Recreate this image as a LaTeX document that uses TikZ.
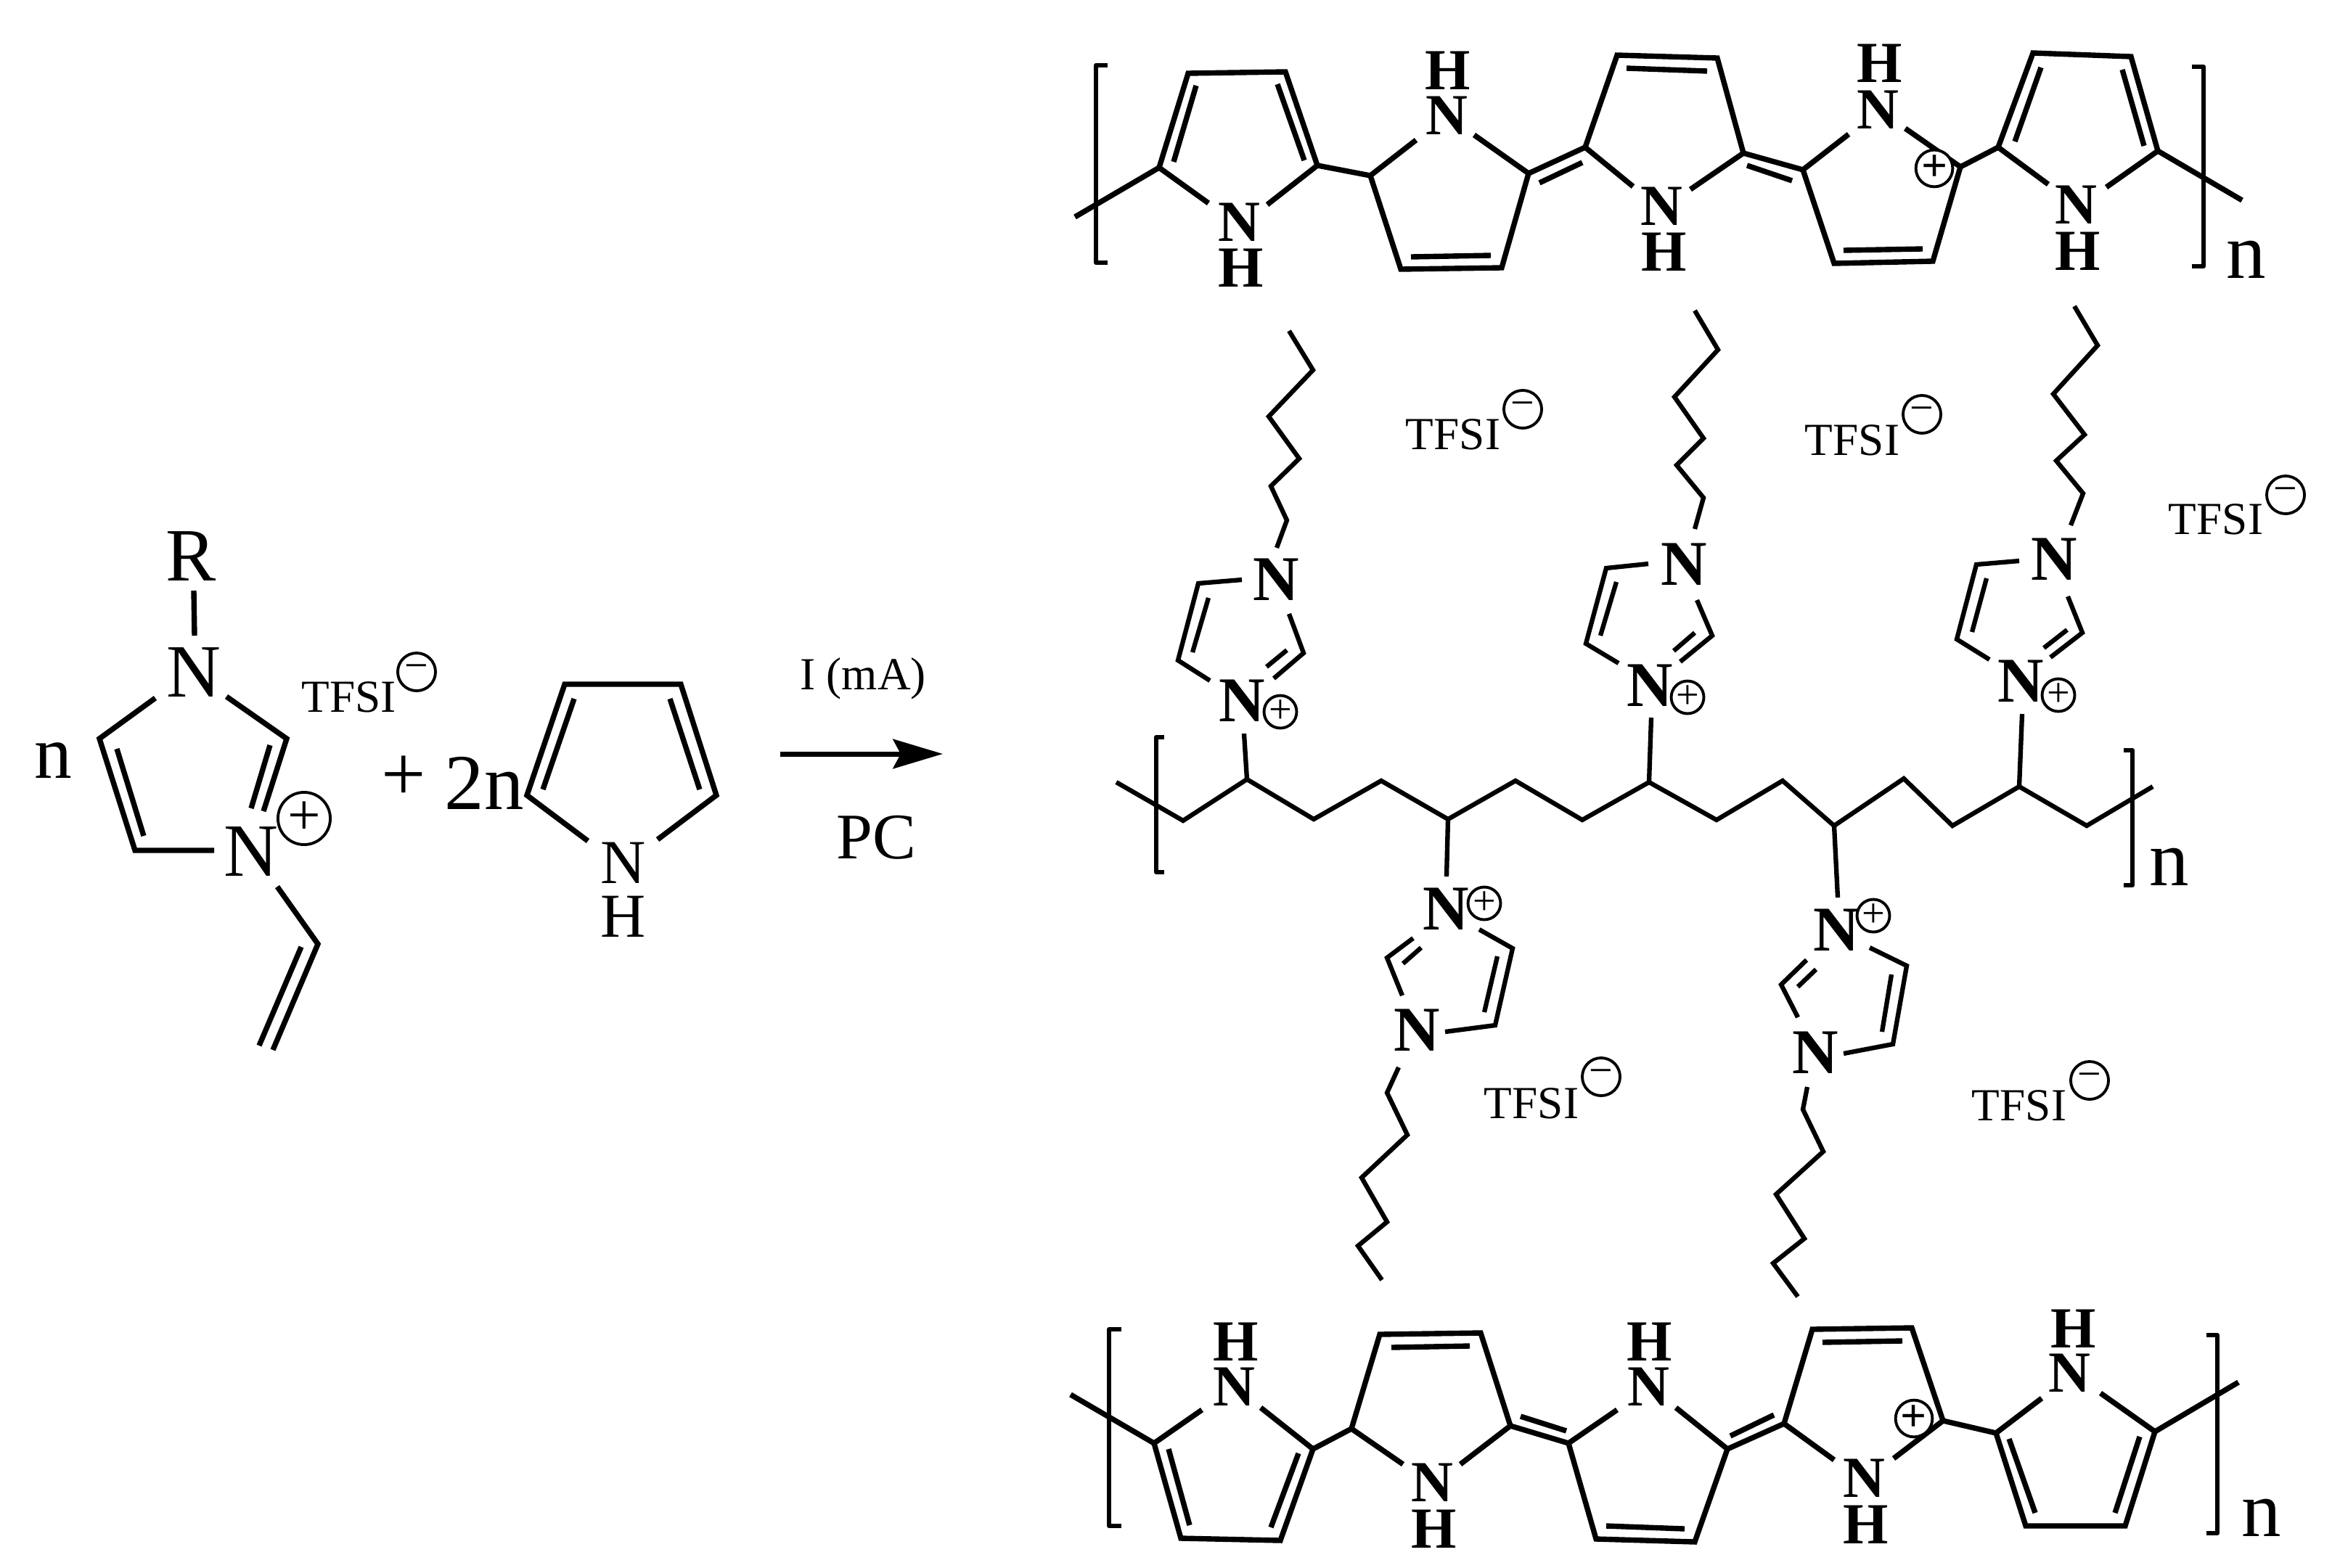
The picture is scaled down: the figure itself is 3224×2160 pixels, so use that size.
\documentclass[tikz,border=0pt]{standalone}
\usepackage{fontspec}
\setmainfont{Liberation Serif}
\usetikzlibrary{arrows.meta}
\tikzset{
  bond/.style={line width=2.1pt,line join=miter,miter limit=6},
  thin bond/.style={line width=1.8pt,line join=miter,miter limit=6},
  bracket/.style={line width=1.7pt,line join=round},
  lbl/.style={anchor=base,inner sep=0pt,outer sep=0pt},
  big/.style={lbl,font=\fontsize{29.5}{30}\selectfont},
  mid/.style={lbl,font=\fontsize{24.5}{25}\selectfont},
  pb/.style={lbl,font=\fontsize{22.8}{23}\selectfont\bfseries},
  sb/.style={lbl,font=\fontsize{25}{26}\selectfont\bfseries},
  ion/.style={lbl,font=\fontsize{18}{19}\selectfont},
  rep/.style={lbl,font=\fontsize{31}{32}\selectfont},
  chg/.style={circle,draw,line width=1.1pt,inner sep=0pt,outer sep=0pt},
  bigplus/.style={chg,minimum size=20.5pt,font=\fontsize{23}{23}\selectfont},
  midplus/.style={chg,minimum size=12.5pt,font=\fontsize{16}{16}\selectfont},
  ringplus/.style={chg,minimum size=14pt,fill=white,font=\fontsize{18}{18}\selectfont\bfseries},
  neg/.style={chg,minimum size=14.8pt,font=\fontsize{16.5}{16.5}\selectfont},
}
\begin{document}
\begin{tikzpicture}[x=0.01cm,y=-0.01cm]
\useasboundingbox (0,0) rectangle (3224,2160);
\fill[white] (0,0) rectangle (3224,2160);

% ---------- imidazolium monomer
\node[big] (lR) at (263,800) {R};
\node[big] (lN1) at (267,960) {N};
\node[big] (lN2) at (346,1207) {N};
\node[big] (ln) at (73,1072) {n};
\node[bigplus] (lplus) at (419,1128) {+};
\node[ion] (ltfsi) at (481,981) {TFSI};
\node[neg] (lminus) at (574,926) {−};
\draw[bond] (267,814) -- (268,876);
\draw[bond] (214,962) -- (137,1018) -- (186,1172) -- (295,1172);
\draw[bond] (161,1032) -- (198,1152);
\draw[bond] (312,960) -- (395,1018) -- (363,1118);
\draw[bond] (372,1027) -- (346,1114);
\draw[bond] (382,1222) -- (438,1301) -- (376,1447);
\draw[bond] (415,1305) -- (357,1441);

% ---------- plus, pyrrole monomer
\node[rep] (lp) at (556,1103) {+};
\node[rep] (l2n) at (667,1115) {2n};
\draw[bond] (810,1159) -- (726,1096) -- (778,943) -- (938,943) -- (987,1096) -- (906,1157);
\draw[bond] (791,963) -- (748,1088);
\draw[bond] (923,963) -- (964,1088);
\node[mid] (pN) at (859,1217) {N};
\node[mid] (pH) at (859,1291) {H};

% ---------- reaction arrow
\node[ion] (cond) at (1189,950) {I (mA)};
\node[lbl,font=\fontsize{25.5}{26}\selectfont] (solv) at (1207,1183) {PC};
\coordinate (arrA) at (1075,1039);
\coordinate (arrB) at (1299,1039);
\draw[line width=2pt,-{Stealth[length=19.5pt,width=11.5pt,inset=3pt]}] (arrA) -- (arrB);

% ---------- top polypyrrole
\draw[bracket] (1526,90) -- (1510,90) -- (1510,362) -- (1526,362);
\draw[bond] (1481,299) -- (1597,231);
\draw[bond] (1665,280) -- (1597,231) -- (1637,101) -- (1771,99) -- (1815,228) -- (1746,282);
\draw[bond] (1648,118) -- (1617,223);
\draw[bond] (1760,116) -- (1797,221);
\draw[bond] (1815,228) -- (1888,242);
\draw[bond] (1951,193) -- (1888,242) -- (1930,371) -- (2069,369) -- (2106,239) -- (2031,186);
\draw[bond] (1944,354) -- (2054,352);
\draw[bond] (2106,239) -- (2184,203);
\draw[bond] (2121,252) -- (2180,224);
\draw[bond] (2250,257) -- (2184,203) -- (2228,76) -- (2366,80) -- (2402,211) -- (2329,261);
\draw[bond] (2241,94) -- (2352,98);
\draw[bond] (2402,211) -- (2484,234);
\draw[bond] (2407,228) -- (2469,249);
\draw[bond] (2547,185) -- (2484,234) -- (2527,363) -- (2663,360) -- (2701,230) -- (2625,177);
\draw[bond] (2540,345) -- (2649,343);
\draw[bond] (2701,230) -- (2753,203);
\draw[bond] (2822,254) -- (2753,203) -- (2801,73) -- (2936,78) -- (2973,208) -- (2902,258);
\draw[bond] (2812,93) -- (2776,195);
\draw[bond] (2924,96) -- (2954,201);
\draw[bond] (2973,208) -- (3089,276);
\draw[bracket] (3020,92) -- (3036,92) -- (3036,367) -- (3020,367);
\node[pb] (tN1) at (1707,332) {N};
\node[pb] (tH1) at (1710,395) {H};
\node[pb] (tN2) at (1993,185) {N};
\node[pb] (tH2) at (1995,123) {H};
\node[pb] (tN3) at (2289,310) {N};
\node[pb] (tH3) at (2293,373) {H};
\node[pb] (tN4) at (2587,177) {N};
\node[pb] (tH4) at (2590,113) {H};
\node[pb] (tN5) at (2860,308) {N};
\node[pb] (tH5) at (2863,372) {H};
\node[ringplus] (tplus) at (2665,232) {+};
\node[rep] (tn) at (3095,383) {n};

% ---------- backbone
\draw[thin bond] (1538,1078) -- (1630,1131) -- (1718,1074) -- (1810,1129) -- (1903,1076) -- (1995,1129)
  -- (2088,1076) -- (2180,1130) -- (2272,1078) -- (2365,1130) -- (2456,1076) -- (2527,1138)
  -- (2623,1073) -- (2690,1138) -- (2782,1084) -- (2875,1138) -- (2966,1084);
\draw[bracket] (1604,1016) -- (1593,1016) -- (1593,1202) -- (1604,1202);
\draw[bracket] (2926,1034) -- (2938,1034) -- (2938,1220) -- (2926,1220);
\node[rep] (bn) at (2989,1220) {n};

% ---------- upper side chain 1
\draw[thin bond] (1776,456) -- (1809,510) -- (1748,574) -- (1790,632) -- (1751,670) -- (1773,717) -- (1759,755);
\draw[thin bond] (1711,799) -- (1651,804) -- (1623,910) -- (1667,938);
\draw[thin bond] (1665,824) -- (1643,899);
\draw[thin bond] (1776,846) -- (1796,900) -- (1755,935);
\draw[thin bond] (1773,896) -- (1745,919);
\draw[thin bond] (1714,1011) -- (1718,1074);
\node[sb] (aN1) at (1758,827) {N};
\node[sb] (aN2) at (1711,994) {N};
\node[midplus] (aplus) at (1764,981) {+};

% ---------- upper side chain 2
\draw[thin bond] (2335,428) -- (2367,482) -- (2307,547) -- (2347,604) -- (2310,641) -- (2347,686) -- (2335,729);
\draw[thin bond] (2271,777) -- (2213,783) -- (2185,887) -- (2230,914);
\draw[thin bond] (2227,802) -- (2205,876);
\draw[thin bond] (2338,827) -- (2359,876) -- (2315,912);
\draw[thin bond] (2335,872) -- (2306,897);
\draw[thin bond] (2275,989) -- (2272,1078);
\node[sb] (bN1) at (2320,806) {N};
\node[sb] (bN2) at (2273,973) {N};
\node[midplus] (bplus) at (2325,961) {+};

% ---------- upper side chain 3
\draw[thin bond] (2858,422) -- (2890,476) -- (2829,543) -- (2872,599) -- (2833,635) -- (2870,680) -- (2853,724);
\draw[thin bond] (2782,773) -- (2723,778) -- (2696,881) -- (2741,909);
\draw[thin bond] (2737,797) -- (2717,871);
\draw[thin bond] (2849,822) -- (2869,872) -- (2825,906);
\draw[thin bond] (2848,868) -- (2816,893);
\draw[thin bond] (2786,984) -- (2782,1084);
\node[sb] (cN1) at (2830,799) {N};
\node[sb] (cN2) at (2784,967) {N};
\node[midplus] (cplus) at (2836,958) {+};

% ---------- lower side chain 1
\draw[thin bond] (1995,1129) -- (1993,1208);
\draw[thin bond] (2038,1281) -- (2084,1307) -- (2060,1413) -- (1991,1422);
\draw[thin bond] (2063,1318) -- (2045,1395);
\draw[thin bond] (1932,1372) -- (1911,1320) -- (1947,1293);
\draw[thin bond] (1933,1328) -- (1958,1306);
\draw[thin bond] (1927,1471) -- (1911,1506) -- (1939,1564) -- (1876,1623) -- (1911,1684) -- (1871,1717) -- (1904,1764);
\node[sb] (dN1) at (1992,1281) {N};
\node[sb] (dN2) at (1952,1448) {N};
\node[midplus] (dplus) at (2045,1245) {+};

% ---------- lower side chain 2
\draw[thin bond] (2527,1138) -- (2532,1237);
\draw[thin bond] (2576,1306) -- (2627,1331) -- (2608,1439) -- (2540,1452);
\draw[thin bond] (2606,1343) -- (2593,1422);
\draw[thin bond] (2477,1402) -- (2454,1357) -- (2489,1323);
\draw[thin bond] (2477,1360) -- (2502,1336);
\draw[thin bond] (2490,1498) -- (2484,1529) -- (2512,1587) -- (2447,1646) -- (2486,1707) -- (2443,1741) -- (2477,1787);
\node[sb] (eN1) at (2530,1310) {N};
\node[sb] (eN2) at (2501,1479) {N};
\node[midplus] (eplus) at (2581,1262) {+};

% ---------- TFSI counter ions
\node[ion] (tfsiA) at (2002,619) {TFSI};
\node[neg] (minusA) at (2098,564) {−};
\node[ion] (tfsiB) at (2552,627) {TFSI};
\node[neg] (minusB) at (2648,571) {−};
\node[ion] (tfsiC) at (3053,736) {TFSI};
\node[neg] (minusC) at (3149,682) {−};
\node[ion] (tfsiD) at (2110,1541) {TFSI};
\node[neg] (minusD) at (2206,1484) {−};
\node[ion] (tfsiE) at (2782,1544) {TFSI};
\node[neg] (minusE) at (2879,1489) {−};

% ---------- bottom polypyrrole
\draw[bracket] (1545,1832) -- (1528,1832) -- (1528,2103) -- (1545,2103);
\draw[bond] (1475,1922) -- (1590,1989);
\draw[bond] (1656,1943) -- (1590,1989) -- (1627,2120) -- (1764,2123) -- (1809,1997) -- (1737,1940);
\draw[bond] (1610,1997) -- (1639,2102);
\draw[bond] (1751,2105) -- (1789,2003);
\draw[bond] (1809,1997) -- (1862,1969);
\draw[bond] (1933,2018) -- (1862,1969) -- (1901,1839) -- (2040,1837) -- (2081,1965) -- (2012,2018);
\draw[bond] (1917,1857) -- (2025,1855);
\draw[bond] (2081,1965) -- (2161,1989);
\draw[bond] (2095,1952) -- (2158,1972);
\draw[bond] (2228,1943) -- (2161,1989) -- (2199,2121) -- (2335,2125) -- (2380,1997) -- (2309,1940);
\draw[bond] (2213,2103) -- (2321,2107);
\draw[bond] (2380,1997) -- (2458,1962);
\draw[bond] (2384,1979) -- (2444,1950);
\draw[bond] (2527,2012) -- (2458,1962) -- (2497,1832) -- (2634,1830) -- (2677,1958) -- (2609,2010);
\draw[bond] (2511,1850) -- (2621,1848);
\draw[bond] (2677,1958) -- (2750,1975);
\draw[bond] (2813,1927) -- (2750,1975) -- (2791,2103) -- (2928,2103) -- (2969,1973) -- (2894,1920);
\draw[bond] (2768,1983) -- (2804,2085);
\draw[bond] (2914,2085) -- (2948,1980);
\draw[bond] (2969,1973) -- (3084,1905);
\draw[bracket] (3040,1840) -- (3055,1840) -- (3055,2113) -- (3040,2113);
\node[pb] (uN1) at (1700,1937) {N};
\node[pb] (uH1) at (1703,1875) {H};
\node[pb] (uN2) at (1973,2069) {N};
\node[pb] (uH2) at (1976,2133) {H};
\node[pb] (uN3) at (2271,1937) {N};
\node[pb] (uH3) at (2273,1875) {H};
\node[pb] (uN4) at (2568,2063) {N};
\node[pb] (uH4) at (2571,2127) {H};
\node[pb] (uN5) at (2851,1918) {N};
\node[pb] (uH5) at (2857,1857) {H};
\node[ringplus] (uplus) at (2637,1955) {+};
\node[rep] (un) at (3116,2117) {n};
\end{tikzpicture}
\end{document}
